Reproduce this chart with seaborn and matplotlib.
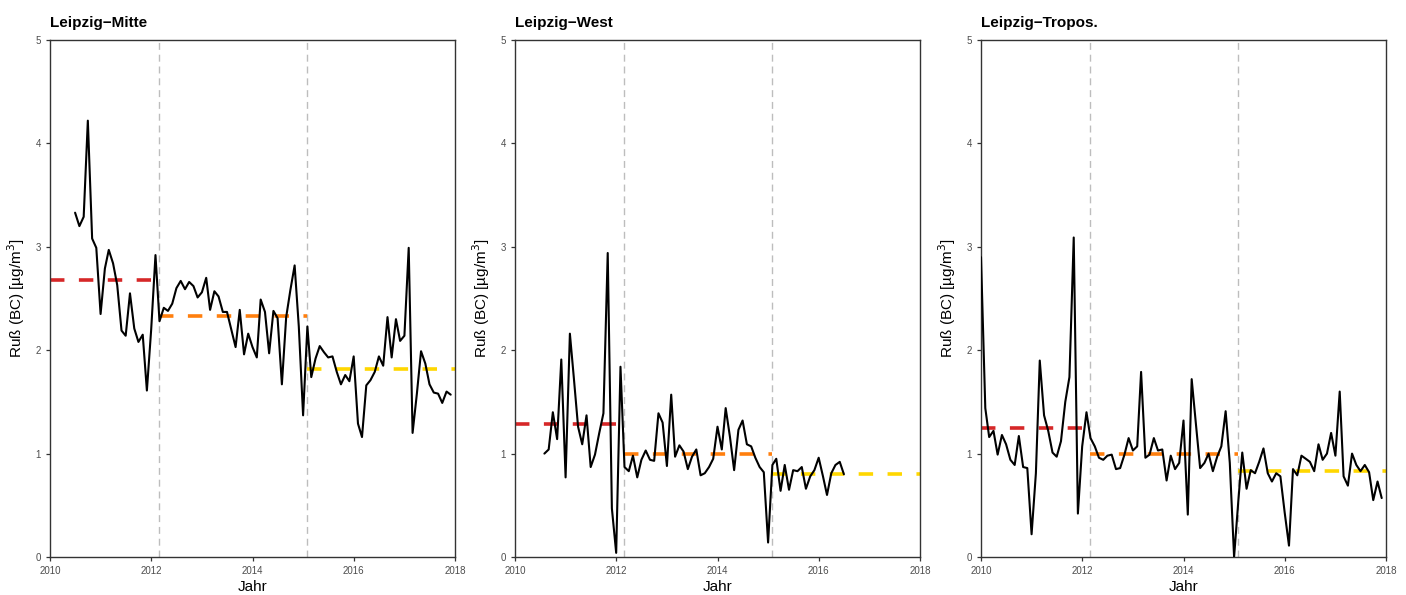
import matplotlib
matplotlib.use("Agg")
import matplotlib.pyplot as plt
import matplotlib.dates as mdates
import pandas as pd
import seaborn as sns

# monthly black carbon means
mitte_start = "2010-07-01"
mitte_bc = [3.33, 3.20, 3.29, 4.22, 3.08, 2.99,
            2.35, 2.79, 2.97, 2.84, 2.63, 2.19, 2.14, 2.55, 2.21, 2.08, 2.15, 1.61,
            2.20, 2.92, 2.28, 2.41, 2.38, 2.45, 2.60, 2.67, 2.59, 2.66, 2.62, 2.51,
            2.56, 2.70, 2.39, 2.57, 2.52, 2.37, 2.37, 2.20, 2.03, 2.39, 1.96, 2.16,
            2.03, 1.93, 2.49, 2.37, 1.97, 2.38, 2.31, 1.67, 2.32, 2.58, 2.82, 2.23,
            1.37, 2.23, 1.74, 1.92, 2.04, 1.98, 1.93, 1.94, 1.79, 1.67, 1.76, 1.70,
            1.94, 1.29, 1.16, 1.66, 1.71, 1.79, 1.94, 1.85, 2.32, 1.93, 2.30, 2.09,
            2.14, 2.99, 1.20, 1.58, 1.99, 1.87, 1.67, 1.59, 1.58, 1.49, 1.60, 1.57]

west_start = "2010-08-01"
west_bc = [1.00, 1.04, 1.40, 1.14, 1.91,
           0.77, 2.16, 1.74, 1.26, 1.09, 1.37, 0.87, 0.99, 1.20, 1.39, 2.94, 0.47,
           0.04, 1.84, 0.87, 0.83, 0.98, 0.77, 0.94, 1.03, 0.94, 0.93, 1.39, 1.30,
           0.88, 1.57, 0.97, 1.08, 1.02, 0.85, 0.97, 1.04, 0.79, 0.81, 0.87, 0.95,
           1.26, 1.04, 1.44, 1.16, 0.84, 1.23, 1.32, 1.09, 1.07, 0.96, 0.87, 0.82,
           0.14, 0.89, 0.95, 0.64, 0.89, 0.65, 0.84, 0.83, 0.87, 0.66, 0.78, 0.84,
           0.96, 0.78, 0.60, 0.81, 0.89, 0.92, 0.80]

tropos_start = "2010-01-01"
tropos_bc = [2.90, 1.44, 1.16, 1.22, 0.99, 1.18, 1.09, 0.94, 0.89, 1.17, 0.87, 0.86,
             0.22, 0.81, 1.90, 1.37, 1.22, 1.01, 0.97, 1.12, 1.50, 1.74, 3.09, 0.42,
             1.07, 1.40, 1.15, 1.07, 0.96, 0.94, 0.98, 0.99, 0.85, 0.86, 0.99, 1.15,
             1.03, 1.07, 1.79, 0.96, 0.99, 1.15, 1.03, 1.04, 0.74, 0.98, 0.85, 0.91,
             1.32, 0.41, 1.72, 1.28, 0.86, 0.91, 1.00, 0.83, 0.97, 1.07, 1.41, 0.91,
             0.00, 0.55, 1.01, 0.66, 0.84, 0.81, 0.92, 1.05, 0.81, 0.73, 0.81, 0.78,
             0.43, 0.11, 0.85, 0.79, 0.98, 0.95, 0.92, 0.83, 1.09, 0.94, 1.00, 1.20,
             0.98, 1.60, 0.78, 0.69, 1.00, 0.89, 0.83, 0.89, 0.82, 0.55, 0.73, 0.57]

stations = ["Leipzig\u2212Mitte", "Leipzig\u2212West", "Leipzig\u2212Tropos."]

# period means (before zone, stage 1, stage 2)
period_starts = ["2010-01-01", "2012-03-01", "2015-02-01"]
period_ends = ["2012-01-01", "2015-02-01", "2018-01-01"]
period_colors = ["#d62728", "#ff7f0e", "#ffd700"]
mitte_means = [2.68, 2.33, 1.82]
west_means = [1.29, 1.00, 0.80]
tropos_means = [1.25, 1.00, 0.83]

change_dates = ["2012-03-01", "2015-02-01"]

series = [
    (mitte_start, mitte_bc, mitte_means),
    (west_start, west_bc, west_means),
    (tropos_start, tropos_bc, tropos_means),
]

sns.set_theme(style="ticks")
plt.rcParams["font.family"] = ["Liberation Sans", "DejaVu Sans"]
plt.rcParams["text.color"] = "black"
plt.rcParams["axes.labelcolor"] = "black"

fig = plt.figure(figsize=(14.06, 5.95), dpi=100)
lefts = [50, 515, 981]

for i, (name, (start, values, means)) in enumerate(zip(stations, series)):
    ax = fig.add_axes([lefts[i] / 1406, 38 / 595, 405 / 1406, 517 / 595])
    df = pd.DataFrame({
        "Datum": pd.date_range(start, periods=len(values), freq="MS"),
        "BC": values,
    })

    for d in change_dates:
        ax.axvline(pd.Timestamp(d), color="#bdbdbd", lw=1.0, ls=(0, (5, 3.5)), zorder=1)

    for s, e, m, c in zip(period_starts, period_ends, means, period_colors):
        ax.hlines(m, pd.Timestamp(s), pd.Timestamp(e), color=c, lw=2.6,
                  linestyles=[(0, (4.0, 4.0))], zorder=2)

    sns.lineplot(data=df, x="Datum", y="BC", color="black", lw=1.5, ax=ax, zorder=3)

    ax.set_xlim(pd.Timestamp("2010-01-01"), pd.Timestamp("2018-01-01"))
    ax.set_ylim(0, 5)
    ax.set_yticks([0, 1, 2, 3, 4, 5])
    ax.xaxis.set_major_locator(mdates.YearLocator(2))
    ax.xaxis.set_major_formatter(mdates.DateFormatter("%Y"))
    ax.tick_params(labelsize=7, colors="#333333", labelcolor="#4d4d4d", length=3, width=0.9)

    for sp in ax.spines.values():
        sp.set_color("#333333")
        sp.set_linewidth(1.0)

    ax.set_title(name, loc="left", fontweight="bold", fontsize=11, pad=9, color="black")
    ax.set_xlabel("Jahr", fontsize=11, labelpad=3)
    ax.set_ylabel("Ruß (BC) [µg/m$^3$]", fontsize=11, labelpad=6)

fig.savefig("out.png", dpi=100)
